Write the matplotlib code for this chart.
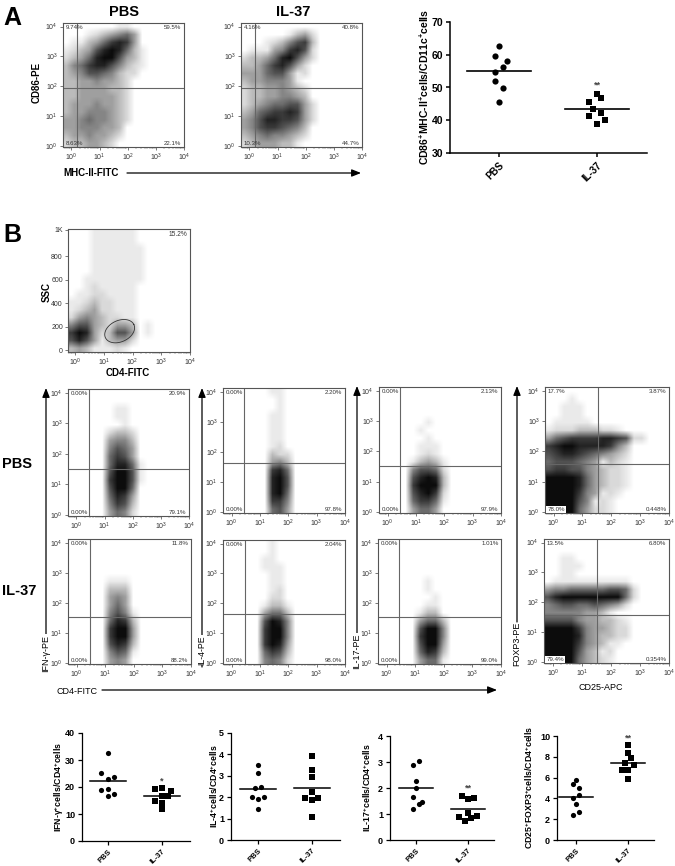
import numpy as np
import matplotlib
matplotlib.use('Agg')
import matplotlib.pyplot as plt
from matplotlib.colors import LinearSegmentedColormap

plt.rcParams['font.family'] = ['Liberation Sans', 'DejaVu Sans']
plt.rcParams['mathtext.fontset'] = 'custom'
plt.rcParams['mathtext.rm'] = 'Liberation Sans'
plt.rcParams['mathtext.bf'] = 'Liberation Sans:bold'
plt.rcParams['mathtext.default'] = 'regular'

W, H = 675, 866

# ---------- Group data ----------
groups = ['PBS', 'IL-37']

cd86_pbs = [62.8, 59.6, 58.2, 56.3, 54.7, 52.1, 49.7, 45.6]
cd86_pbs_jit = [0, -0.04, 0.08, 0.04, -0.04, -0.04, 0.04, 0]
cd86_il37 = [48.1, 46.8, 45.6, 43.4, 42.3, 41.2, 40.2, 38.9]
cd86_il37_jit = [0, 0.04, -0.08, -0.04, 0.04, -0.08, 0.08, 0]
cd86_means = [54.9, 43.4]

ifn_pbs = [32.6, 25.1, 23.7, 23.0, 18.9, 19.3, 17.3, 16.7]
ifn_pbs_jit = [0, -0.12, 0.12, 0, -0.12, 0, 0.12, 0]
ifn_il37 = [19.6, 19.2, 18.7, 16.7, 16.5, 15.0, 14.1, 11.8]
ifn_il37_jit = [0, -0.12, 0.17, 0, 0.12, -0.12, 0, 0]
ifn_means = [22.2, 16.5]

il4_pbs = [3.52, 3.14, 2.50, 2.41, 2.02, 2.02, 1.93, 1.46]
il4_pbs_jit = [0, 0, 0.06, -0.06, -0.12, 0.12, 0, 0]
il4_il37 = [3.91, 3.29, 2.95, 2.25, 1.94, 1.96, 1.86, 1.06]
il4_il37_jit = [0, 0, 0, 0, -0.12, 0.12, 0, 0]
il4_means = [2.38, 2.41]

il17_pbs = [3.03, 2.88, 2.27, 2.00, 1.65, 1.45, 1.38, 1.19]
il17_pbs_jit = [0.06, -0.06, 0, 0, -0.06, 0.12, 0.06, -0.06]
il17_il37 = [1.68, 1.62, 1.58, 1.03, 0.90, 0.94, 0.86, 0.72]
il17_il37_jit = [-0.12, 0.12, 0, 0, -0.18, 0.18, 0.06, -0.06]
il17_means = [1.99, 1.18]

foxp3_pbs = [5.81, 5.37, 4.98, 4.28, 4.06, 3.45, 2.65, 2.43]
foxp3_pbs_jit = [0, -0.06, 0.06, 0.06, -0.06, 0, 0.06, -0.06]
foxp3_il37 = [9.17, 8.40, 7.89, 7.38, 7.19, 6.71, 6.71, 5.85]
foxp3_il37_jit = [0, 0, 0.06, -0.06, 0.12, -0.12, 0, 0]
foxp3_means = [4.15, 7.44]

# ---------- Percentages printed in the flow plots (UL, UR, LL, LR) ----------
pct_a_pbs = ['9.74%', '59.5%', '8.63%', '22.1%']
pct_a_il37 = ['4.16%', '40.8%', '10.3%', '44.7%']
pct_ifn_pbs = ['0.00%', '20.9%', '0.00%', '79.1%']
pct_ifn_il37 = ['0.00%', '11.8%', '0.00%', '88.2%']
pct_il4_pbs = ['0.00%', '2.20%', '0.00%', '97.8%']
pct_il4_il37 = ['0.00%', '2.04%', '0.00%', '98.0%']
pct_il17_pbs = ['0.00%', '2.13%', '0.00%', '97.9%']
pct_il17_il37 = ['0.00%', '1.01%', '0.00%', '99.0%']
pct_fox_pbs = ['17.7%', '3.87%', '78.0%', '0.448%']
pct_fox_il37 = ['13.5%', '6.80%', '79.4%', '0.354%']

# ---------- Event density estimated by eye from the reference: a stand-in for the
# individual events, which cannot be read. '.' = sparse dots, 1-9 up to solid; top row first ----------
dens_a_pbs = ['0000000..0', '000.123453', '0..2357873', '.123689852.', '1235899632.',
              '2457886421.', '2346654211', '2233433210', '2233332210', '2233333210',
              '2333433210', '2334443210', '3345443210', '3344433200', '2334332100', '1223321']
dens_a_il37 = ['0', '000000.231', '000.124672', '0...347861', '1223589631',
               '2235786310', '3335663.10', '2334443.00', '1223343210', '1223344320',
               '1234556631', '2356778731', '3468877631', '3467765420', '2345443210', '1233322.00']
dens_ssc = ['000......00', '000......00', '000.......0', '000.......0', '000.......0',
            '000.......0', '00........0', '00.1.....0', '0..11....0', '..1211...0',
            '.12311...0', '1343211..0', '4663213320.', '7983126630.', '6863.23310', '232...1.0']
dens_ifn_pbs = ['0', '0', '000000..0', '000000..0', '0000000.',
                '000001221', '000003442', '000004653', '000005763', '000005885.',
                '000006996.', '000007996.', '000006995', '000005873', '000004762', '000003541']
dens_ifn_il37 = ['0', '0', '0', '0', '0',
                 '00000...', '00000222', '00000343', '00000353', '00000464.',
                 '000005872', '000007993', '000007993', '000006872', '00000465.', '00000343']
dens_il4_pbs = ['000000..', '0000000.', '0000000.', '000000..', '000000..',
                '000000..', '000000..', '000000.1', '000000211', '000000342',
                '000000785', '000000896', '000000896', '000000895', '000000774', '000000563']
dens_il4_il37 = ['000000.', '000000.', '00000..', '00000...', '000000..',
                 '000000..', '000000.1', '00000011', '00000.22.', '000003552',
                 '000006984', '000007994', '000007994', '000007983', '000005762', '000004541']
dens_il17_pbs = ['0', '0', '0', '0', '000000.',
                 '00000.', '000000.', '00000...', '00000.1.', '0000.232.',
                 '000046651', '000068982', '000079992', '000068971', '00005775.', '00003553']
dens_il17_il37 = ['0', '0', '0', '0', '0',
                  '000000.', '000000.', '0000000.', '000000..', '00000.22',
                  '000003552', '000006994', '000007994', '000006993', '000005872', '00000355.']
dens_fox_pbs = ['0', '000.0', '00...', '00...', '0.....',
                '.11122211.', '3567777887611', '78998888742', '67887654321', '5666543.21.',
                '6776643211.', '9999853211.', '9999853211.', '9999743.1.0', '999964.1.0', '99995311.']
dens_fox_il37 = ['0', '0', '00..0', '00...', '00..0',
                 '0..........', '344555556651', '689999999951', '45665565431', '44444332.0',
                 '6666433221.', '99997433211', '99998432211', '99997432..0', '9999632.10', '99995321.0']

# ---------- Quadrant gates (x, y, in decades) ----------
gate_a_pbs = (0.20, 1.93)
gate_a_il37 = (0.19, 1.93)
gate_ifn_pbs = (0.46, 1.50)
gate_ifn_il37 = (0.46, 1.53)
gate_il4_pbs = (0.44, 1.63)
gate_il4_il37 = (0.46, 1.65)
gate_il17_pbs = (0.44, 1.51)
gate_il17_il37 = (0.44, 1.52)
gate_fox_pbs = (1.53, 1.60)
gate_fox_il37 = (1.53, 1.57)

ssc_ticks = [0, 200, 400, 600, 800, 1024]
ssc_ticklabels = ['0', '200', '400', '600', '800', '1K']

fig = plt.figure(figsize=(W / 100, H / 100), dpi=100, facecolor='white')
cmap = LinearSegmentedColormap.from_list('ev', ['#ffffff', '#0c0c0c'])


def ax_px(x0, y0, x1, y1):
    return fig.add_axes([x0 / W, 1 - y1 / H, (x1 - x0) / W, (y1 - y0) / H])


over = fig.add_axes([0, 0, 1, 1], zorder=10)
over.set_xlim(0, W)
over.set_ylim(H, 0)
over.axis('off')
over.patch.set_alpha(0)


def txt(x, y, s, size=7, bold=True, rot=0, ha='center', va='center', color='black'):
    over.text(x, y, s, fontsize=size, fontweight='bold' if bold else 'normal',
              rotation=rot, ha=ha, va=va, color=color)


def arrow(x0, y0, x1, y1):
    over.annotate('', xy=(x1, y1), xytext=(x0, y0),
                  arrowprops=dict(arrowstyle='-|>,head_width=0.22,head_length=0.55',
                                  color='black', lw=0.9, shrinkA=0, shrinkB=0))


def density(ax, rows, xlim, ylim):
    grid = np.array([[0.5 if c == '.' else int(c) for c in r.ljust(16, '0')] for r in rows], float)
    ax.imshow((grid / 9) ** 0.85, cmap=cmap, vmin=0, vmax=1, origin='upper', aspect='auto',
              interpolation='bilinear', extent=(xlim[0], xlim[1], ylim[0], ylim[1]), zorder=1)
    ax.set_xlim(*xlim)
    ax.set_ylim(*ylim)


def dec_label(d):
    return '$10^{%d}$' % d


def style_flow(ax, xlim, log_y=True):
    for s in ax.spines.values():
        s.set_linewidth(0.8)
        s.set_color('#555555')
    ax.set_xticks(range(5))
    ax.set_xticklabels([dec_label(d) for d in range(5)], fontsize=5, color='#333333')
    minor = [d + np.log10(k) for d in range(-1, 4) for k in range(2, 10)
             if xlim[0] < d + np.log10(k) < xlim[1]]
    ax.set_xticks(minor, minor=True)
    ax.tick_params(axis='x', which='major', length=2.2, width=0.5, pad=1.5, color='#444444')
    ax.tick_params(axis='x', which='minor', length=1.2, width=0.3, color='#444444')
    if log_y:
        ax.set_yticks(range(5))
        ax.set_yticklabels([dec_label(d) for d in range(5)], fontsize=5, color='#333333')
    ax.tick_params(axis='y', which='major', length=2.2, width=0.5, pad=1.5, color='#444444')


def flow(box, rows, gate, pct, box_ll=False):
    ax = ax_px(*box)
    xlim, ylim = (-0.3, 4.0), (-0.03, 4.12)
    density(ax, rows, xlim, ylim)
    style_flow(ax, xlim)
    ax.axvline(gate[0], color='#666666', lw=0.8, zorder=2)
    ax.axhline(gate[1], color='#666666', lw=0.8, zorder=2)
    kw = dict(transform=ax.transAxes, fontsize=4.4, color='#333333', zorder=3)
    ax.text(0.02, 0.965, pct[0], ha='left', va='center', **kw)
    ax.text(0.98, 0.965, pct[1], ha='right', va='center', **kw)
    bb = dict(fc='white', ec='none', pad=0.8) if box_ll else None
    ax.text(0.02, 0.03, pct[2], ha='left', va='center', bbox=bb, **kw)
    ax.text(0.98, 0.03, pct[3], ha='right', va='center', **kw)
    return ax


def dots(box, xlim, ylim, yticks, a, aj, b, bj, means, ms, tick_fs, x_fs, lw, line_lw, line_hw=0.33, star=None):
    ax = ax_px(*box)
    ax.scatter(np.array(aj), a, s=ms, c='black', marker='o', linewidths=0, zorder=3, clip_on=False)
    ax.scatter(1 + np.array(bj), b, s=ms, c='black', marker='s', linewidths=0, zorder=3, clip_on=False)
    for i, m in enumerate(means):
        ax.plot([i - line_hw, i + line_hw], [m, m], color='black', lw=line_lw, zorder=2)
    ax.set_xlim(*xlim)
    ax.set_ylim(*ylim)
    ax.spines['top'].set_visible(False)
    ax.spines['right'].set_visible(False)
    ax.spines['left'].set_linewidth(lw)
    ax.spines['bottom'].set_linewidth(lw)
    ax.set_yticks(yticks)
    ax.set_yticklabels([str(t) for t in yticks], fontsize=tick_fs, fontweight='bold')
    ax.set_xticks([0, 1])
    ax.set_xticklabels(groups, fontsize=x_fs, fontweight='bold', rotation=45, ha='right',
                       va='top', rotation_mode='anchor')
    ax.tick_params(axis='both', length=3, width=lw, pad=2)
    if star:
        ax.text(star[0], star[1], star[2], ha='center', va='center', fontsize=6.5,
                color='#444444', fontweight='bold')
    return ax


# ---------- Panel A ----------
flow((63, 23, 184, 147), dens_a_pbs, gate_a_pbs, pct_a_pbs)
flow((241, 23, 362, 147), dens_a_il37, gate_a_il37, pct_a_il37)
txt(3, 18, 'A', size=18, ha='left')
txt(124, 12, 'PBS', size=10.5)
txt(293, 12, 'IL-37', size=10.5)
txt(37, 82, 'CD86-PE', size=7, rot=90)
txt(63, 173, 'MHC-II-FITC', size=7, ha='left')
arrow(127, 173, 361, 173)

dots((450, 22, 647, 153), (-0.5, 1.51), (30, 70), [30, 40, 50, 60, 70],
     cd86_pbs, cd86_pbs_jit, cd86_il37, cd86_il37_jit, cd86_means, 20, 7.5, 7, 1.1, 1.2,
     star=(1, 50.7, '**'))
txt(424, 87, r'CD86$^{\mathbf{+}}$MHC-II$^{\mathbf{+}}$cells/CD11c$^{\mathbf{+}}$cells', size=7.5, rot=90)

# ---------- Panel B, SSC gate ----------
txt(3, 235, 'B', size=18, ha='left')
ax = ax_px(68, 229, 190, 352)
sx, sy = (-0.25, 4.0), (-14, 1031)
density(ax, dens_ssc, sx, sy)
style_flow(ax, sx, log_y=False)
ax.set_yticks(ssc_ticks)
ax.set_yticklabels(ssc_ticklabels, fontsize=5, color='#333333')
ax.axhline(1028, xmin=0.16, xmax=0.63, color='#555555', lw=1.2, zorder=2)
ax.text(0.98, 0.955, '15.2%', transform=ax.transAxes, ha='right', va='center', fontsize=4.8, color='#333333')
# gate drawn in pixel space, converted to the axes' scales
t = np.linspace(0, 2 * np.pi, 80)
ang = np.radians(25)
ex = 47 * np.cos(t) * np.cos(ang) - 32 * np.sin(t) * np.sin(ang)
ey = 47 * np.cos(t) * np.sin(ang) + 32 * np.sin(t) * np.cos(ang)
ax.plot(1.55 + ex / 86, 163 + ey / 71 * 200, color='#333333', lw=0.6, zorder=3)
txt(47, 292, 'SSC', size=7, rot=90)
txt(128, 373, 'CD4-FITC', size=7)

# ---------- Panel B, cytokine panels ----------
flow((68, 389, 189, 516), dens_ifn_pbs, gate_ifn_pbs, pct_ifn_pbs)
flow((68, 539, 191, 664), dens_ifn_il37, gate_ifn_il37, pct_ifn_il37)
flow((223, 388, 345, 513), dens_il4_pbs, gate_il4_pbs, pct_il4_pbs)
flow((223, 540, 345, 664), dens_il4_il37, gate_il4_il37, pct_il4_il37)
flow((379, 387, 501, 513), dens_il17_pbs, gate_il17_pbs, pct_il17_pbs)
flow((378, 539, 501, 664), dens_il17_il37, gate_il17_il37, pct_il17_il37)
flow((545, 387, 669, 513), dens_fox_pbs, gate_fox_pbs, pct_fox_pbs, box_ll=True)
flow((544, 539, 669, 663), dens_fox_il37, gate_fox_il37, pct_fox_il37, box_ll=True)

txt(2, 464, 'PBS', size=10.5, ha='left')
txt(2, 591, 'IL-37', size=10.5, ha='left')

arrow(46, 667, 46, 388)
arrow(202, 667, 202, 388)
arrow(357, 667, 357, 386)
arrow(517, 622, 517, 386)
over.text(46, 653, 'IFN-\u03b3-PE', rotation=90, fontsize=6.5, ha='center', va='center',
          bbox=dict(fc='white', ec='none', pad=0.3))
over.text(202, 650, 'IL-4-PE', rotation=90, fontsize=6.2, ha='center', va='center',
          bbox=dict(fc='white', ec='none', pad=0.3))
over.text(357, 651, 'IL-17-PE', rotation=90, fontsize=6.5, ha='center', va='center',
          bbox=dict(fc='white', ec='none', pad=0.3))
over.text(517, 644, 'FOXP3-PE', rotation=90, fontsize=6.5, ha='center', va='center')
txt(77, 692, 'CD4-FITC', size=6.5, bold=False)
arrow(102, 690, 497, 690)
txt(601, 688, 'CD25-APC', size=6.5, bold=False)

# ---------- Panel B, bottom dot plots ----------
dots((82, 733, 190, 841), (-0.48, 1.52), (0, 40), [0, 10, 20, 30, 40],
     ifn_pbs, ifn_pbs_jit, ifn_il37, ifn_il37_jit, ifn_means, 14, 6.5, 5.5, 0.9, 1.1, star=(1, 22.3, '*'))
txt(59, 787, r'IFN-$\mathbf{\gamma}^{\mathbf{+}}$cells/CD4$^{\mathbf{+}}$cells', size=6.3, rot=90)

dots((231, 733, 340, 840), (-0.5, 1.52), (0, 5), [0, 1, 2, 3, 4, 5],
     il4_pbs, il4_pbs_jit, il4_il37, il4_il37_jit, il4_means, 14, 6.5, 5.5, 0.9, 1.1)
txt(214, 786, r'IL-4$^{\mathbf{+}}$cells/CD4$^{\mathbf{+}}$cells', size=6.3, rot=90)

dots((390, 736, 494, 840), (-0.5, 1.5), (0, 4), [0, 1, 2, 3, 4],
     il17_pbs, il17_pbs_jit, il17_il37, il17_il37_jit, il17_means, 14, 6.5, 5.5, 0.9, 1.1, star=(1, 2.0, '**'))
txt(367, 788, r'IL-17$^{\mathbf{+}}$cells/CD4$^{\mathbf{+}}$cells', size=6.3, rot=90)

dots((557, 736, 654, 840), (-0.365, 1.5), (0, 10), [0, 2, 4, 6, 8, 10],
     foxp3_pbs, foxp3_pbs_jit, foxp3_il37, foxp3_il37_jit, foxp3_means, 14, 6.5, 5.5, 0.9, 1.1, star=(1, 9.84, '**'))
txt(529, 787, r'CD25$^{\mathbf{+}}$FOXP3$^{\mathbf{+}}$cells/CD4$^{\mathbf{+}}$cells', size=6.3, rot=90)

fig.savefig('out.png', dpi=100, facecolor='white')
